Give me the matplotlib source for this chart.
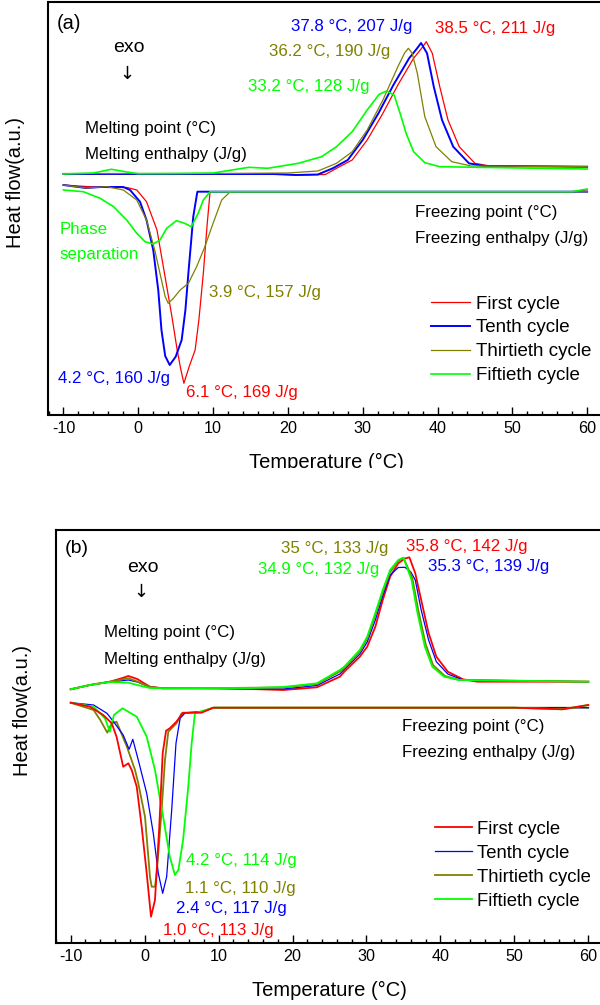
import matplotlib
matplotlib.use("Agg")
import matplotlib.pyplot as plt
from matplotlib.ticker import MultipleLocator
from matplotlib.transforms import Bbox, TransformedBbox

plt.rcParams['font.family'] = ['Liberation Sans', 'DejaVu Sans']
plt.rcParams['axes.unicode_minus'] = False

# ---------------- panel (a) ----------------
# melting (upper) curves, heat flow in a.u.
red_melt_T = [-10, 0, 10, 18, 22, 25, 26.5, 28.6, 30.6, 32.7, 34.7, 36.8, 37.8, 38.5, 39.3, 40.3, 41.4, 42.9, 45, 47, 60]
red_melt = [241, 241, 241, 241, 240, 240.5, 246.7, 255, 275, 301.7, 330, 356.7, 366, 373.3, 361.7, 328.3, 295, 268.3, 251.7, 249, 248.3]
blue_melt_T = [-10, 10, 18, 21, 24, 26, 28, 30, 32.1, 34.1, 36.2, 37.2, 37.8, 38.6, 39.5, 40.6, 42.1, 44.2, 46.2, 60]
blue_melt = [241, 241, 241, 240, 240.5, 246.7, 255, 275, 301.7, 330, 356.7, 366, 372, 361.7, 328.3, 295, 268.3, 251.7, 249, 248.3]
olive_melt_T = [-10, 10, 20, 24, 26.5, 28.6, 30.6, 32.7, 34.7, 35.6, 36.1, 36.6, 37.3, 38.3, 39.8, 41.9, 44.5, 60]
olive_melt = [241.5, 241.5, 242, 244, 251.7, 263.3, 285, 315, 348.3, 362, 366.7, 362, 341.7, 298.3, 268.3, 253.3, 249, 248.3]
green_melt_T = [-10, -6, -3.6, -1.5, 0, 5, 10, 14.8, 17.3, 21.4, 24.5, 26.5, 28.6, 30.6, 32.2, 33.2, 34.2, 35, 35.8, 36.8, 38.3, 40.3, 60]
green_melt = [241, 242, 245.7, 243, 241.3, 241.5, 242, 247.7, 246.7, 251.7, 258.3, 268.3, 283.3, 305, 320.7, 324, 320, 301.7, 281.7, 263.3, 252.3, 248.3, 246]

# freezing (lower) curves
red_frz_T = [-10, -7, -4, -1.5, -0.2, 1.1, 2.5, 3.35, 4.5, 5.2, 5.7, 6.1, 6.8, 7.6, 8.1, 8.7, 9.2, 9.6, 12, 58, 60]
red_frz = [230, 228.5, 227.5, 227.5, 225, 213.3, 185, 148.3, 98.3, 65, 45, 31.7, 48.3, 65, 95, 142, 190, 223.3, 223.3, 223.3, 225.3]
blue_frz_T = [-10, -7, -5, -2, -1.1, 0.23, 1.1, 2.0, 2.67, 3.1, 3.6, 4.2, 5.0, 5.8, 6.3, 6.7, 7.35, 7.9, 60]
blue_frz = [230, 227, 228, 228, 225, 213.3, 195, 165, 125, 85, 59, 50, 58.3, 75, 105, 142, 198.3, 223.3, 223.3]
olive_frz_T = [-10, -7, -4.2, -2.0, -0.2, 1.1, 2.2, 3.1, 3.6, 4.0, 4.7, 5.6, 6.7, 7.8, 8.9, 10.0, 11.15, 12.3, 60]
olive_frz = [230, 227, 228.3, 225, 215, 195, 165, 135, 118.3, 111.7, 116.7, 125, 131.7, 148.3, 168.3, 191.7, 215, 223.3, 223.3]
green_frz_T = [-10, -7.35, -5.1, -3.3, -1.55, -0.2, 0.9, 2.0, 2.9, 3.8, 5.1, 6.2, 7.1, 8.0, 8.7, 9.6, 58, 60]
green_frz = [225, 223.3, 216.7, 208.3, 195, 181.7, 173.3, 171, 175, 186.7, 194.3, 191.7, 188.3, 201.7, 215, 223.3, 223.3, 226]

# ---------------- panel (b) ----------------
red_melt_b_T = [-10, -7.4, -4.7, -3, -2.2, -1, 0.7, 2.5, 10, 14.3, 18.75, 23.3, 26.4, 27, 29.1, 30.1, 31.2, 32.2, 33.2, 34.3, 35.2, 35.8, 36.6, 37.4, 38.4, 39.45, 41, 43.06, 45, 60]
red_melt_b = [253.7, 258, 261.3, 265, 267, 264, 256.3, 254.7, 254.5, 254, 253, 255.7, 266.3, 271.3, 286.3, 296.3, 316.3, 343, 366.3, 379.7, 384.5, 385.7, 369.7, 343, 310, 286.3, 271.3, 263.7, 261.3, 261.3]
blue_melt_b_T = [-10, -7.4, -4.7, -2.2, -1, 0.7, 2.5, 10, 18.75, 23.3, 26.4, 27, 29.1, 30.1, 31.2, 32.2, 33.2, 34.3, 35.2, 36.0, 36.6, 37.4, 38.4, 39.45, 41, 43.06, 60]
blue_melt_b = [253.7, 258, 261, 263, 261, 256, 254.7, 254.5, 254, 257.5, 269, 273.5, 289, 301, 323, 347, 368, 375.5, 375.7, 371, 363, 333, 303, 281.3, 269, 263, 261.3]
olive_melt_b_T = [-10, -7.4, -4.7, -2.2, -1, 0.7, 2.5, 10, 18.75, 23.3, 26.4, 27, 29.1, 30.1, 31.2, 32.2, 33.2, 34.3, 35.0, 36.2, 37.0, 38.0, 39.0, 40.6, 42.6, 60]
olive_melt_b = [253.7, 258, 261.3, 264.7, 261.5, 256, 254.7, 255, 255.5, 259, 271.5, 275, 291.5, 304.5, 328, 351, 371, 382, 385.3, 365, 333, 299, 278, 267, 263, 261.3]
green_melt_b_T = [-10, -7.4, -4.7, -2.2, -1, 0.7, 2.5, 10, 14.3, 18.75, 23.3, 26.4, 27, 29.1, 30.1, 31.2, 32.2, 33.2, 34.3, 35.0, 36.1, 36.9, 37.9, 38.9, 40.5, 42.5, 60]
green_melt_b = [253.7, 258, 261, 260.3, 258, 255, 254.7, 255, 255, 256, 259.7, 273, 276.3, 293, 306.3, 330, 353, 373, 383, 385.3, 363, 330, 296.3, 276.3, 266.3, 263, 261.3]

red_frz_b_T = [-10, -7.4, -5.6, -4.45, -3.8, -2.9, -2.2, -1.75, -1.07, -0.4, 0.28, 0.86, 1.4, 1.98, 2.44, 2.9, 3.4, 4.3, 5.2, 7.7, 9.3, 50, 56.5, 60]
red_frz_b = [240.3, 236.3, 228, 219.7, 206.3, 176.3, 179.7, 173, 156.3, 116.3, 69.7, 26.3, 43, 116.3, 189.7, 212.3, 214.7, 221.3, 230.3, 230.3, 235.3, 235.3, 233.7, 238]
blue_frz_b_T = [-10, -6.9, -5.1, -4.2, -2.9, -2.1, -1.6, -0.86, 0.28, 1.17, 1.85, 2.44, 2.98, 3.66, 4.24, 4.8, 5.5, 7.7, 9.3, 60]
blue_frz_b = [240.3, 238, 229.7, 221.3, 208, 193.7, 203.7, 183, 149.7, 109.7, 69.7, 49.7, 66.3, 133, 199.7, 224.7, 230.3, 231, 235.3, 235.3]
olive_frz_b_T = [-10, -6.9, -6.0, -5.05, -4.45, -3.8, -2.4, -1.3, -0.86, 0.05, 0.72, 0.95, 1.4, 1.63, 2.3, 2.75, 3.2, 4.3, 5.0, 6.1, 7.7, 9.3, 60]
olive_frz_b = [240.3, 233, 223, 210.3, 219.7, 221.3, 196.3, 173, 159.7, 126.3, 66.3, 56.3, 56.3, 69.7, 133, 183, 211.3, 219.7, 229.7, 230.3, 231.3, 235.3, 235.3]
green_frz_b_T = [-10, -6.9, -5.36, -4.7, -4.15, -3.0, -1.07, 0.28, 1.4, 2.5, 3.4, 4.1, 4.56, 5.2, 5.9, 6.36, 6.8, 7.5, 9.3, 50, 56.5, 60]
green_frz_b = [240.3, 236.3, 224.7, 211.3, 228, 234.7, 226.3, 206.3, 173, 126.3, 86.3, 68, 73, 103, 156.3, 199.7, 229.7, 231.3, 235.3, 235.3, 233.7, 238]

RED, BLUE, OLIVE, GREEN = '#ff0000', '#0000ff', '#808000', '#00ff00'
labels = ["First cycle", "Tenth cycle", "Thirtieth cycle", "Fiftieth cycle"]

fig = plt.figure(figsize=(6, 10.05), dpi=100)
ax_a = fig.add_axes([48.5 / 600, 1 - 415 / 1005, 553.6 / 600, 413 / 1005])
ax_b = fig.add_axes([55.9 / 600, 1 - 943 / 1005, 547.2 / 600, 413 / 1005])

# panel (a) curves
ax_a.plot(red_melt_T, red_melt, color=RED, lw=0.9, label=labels[0])
ax_a.plot(blue_melt_T, blue_melt, color=BLUE, lw=1.4, label=labels[1])
ax_a.plot(olive_melt_T, olive_melt, color=OLIVE, lw=0.9, label=labels[2])
ax_a.plot(green_melt_T, green_melt, color=GREEN, lw=1.2, label=labels[3])
ax_a.plot(red_frz_T, red_frz, color=RED, lw=0.9)
ax_a.plot(blue_frz_T, blue_frz, color=BLUE, lw=1.4)
ax_a.plot(olive_frz_T, olive_frz, color=OLIVE, lw=0.9)
ax_a.plot(green_frz_T, green_frz, color=GREEN, lw=1.2)

# panel (b) curves
ax_b.plot(red_melt_b_T, red_melt_b, color=RED, lw=1.3, label=labels[0])
ax_b.plot(blue_melt_b_T, blue_melt_b, color=BLUE, lw=0.9, label=labels[1])
ax_b.plot(olive_melt_b_T, olive_melt_b, color=OLIVE, lw=1.3, label=labels[2])
ax_b.plot(green_melt_b_T, green_melt_b, color=GREEN, lw=1.3, label=labels[3])
ax_b.plot(olive_frz_b_T, olive_frz_b, color=OLIVE, lw=1.3)
ax_b.plot(blue_frz_b_T, blue_frz_b, color=BLUE, lw=0.9)
ax_b.plot(green_frz_b_T, green_frz_b, color=GREEN, lw=1.3)
ax_b.plot(red_frz_b_T, red_frz_b, color=RED, lw=1.3)

for ax in (ax_a, ax_b):
    ax.set_xlim(-12, 62)
    ax.set_ylim(0, 413)
    ax.set_yticks([])
    ax.xaxis.set_major_locator(MultipleLocator(10))
    ax.xaxis.set_minor_locator(MultipleLocator(2))
    ax.tick_params(axis='x', which='major', direction='in', length=6, width=1.0,
                   labelsize=11.6, pad=4)
    ax.tick_params(axis='x', which='minor', direction='in', length=3, width=1.0)
    for sp in ax.spines.values():
        sp.set_linewidth(1.5)

fs = 12.2
arrow_font = ['DejaVu Sans']

# annotations panel (a)
ax_a.text(-10.9, 391.7, "(a)", fontsize=14.5, va='center')
ax_a.text(-1.24, 367, "exo", fontsize=14, ha='center', va='center')
ax_a.text(-1.5, 341, "↓", fontsize=13, ha='center', va='center', family=arrow_font)
ax_a.text(-7.13, 287, "Melting point (°C)", fontsize=fs, va='center')
ax_a.text(-7.13, 261, "Melting enthalpy (J/g)", fontsize=fs, va='center')
ax_a.text(36.99, 202.3, "Freezing point (°C)", fontsize=fs, va='center')
ax_a.text(36.99, 176, "Freezing enthalpy (J/g)", fontsize=fs, va='center')
ax_a.text(-10.56, 185, "Phase", fontsize=fs, va='center', color=GREEN)
ax_a.text(-10.56, 160, "separation", fontsize=fs, va='center', color=GREEN)
ax_a.text(20.4, 389, "37.8 °C, 207 J/g", fontsize=fs, va='center', color=BLUE)
ax_a.text(39.7, 386.7, "38.5 °C, 211 J/g", fontsize=fs, va='center', color=RED)
ax_a.text(17.5, 363.3, "36.2 °C, 190 J/g", fontsize=fs, va='center', color=OLIVE)
ax_a.text(14.7, 328.3, "33.2 °C, 128 J/g", fontsize=fs, va='center', color=GREEN)
ax_a.text(9.45, 122, "3.9 °C, 157 J/g", fontsize=fs, va='center', color=OLIVE)
ax_a.text(-10.7, 37, "4.2 °C, 160 J/g", fontsize=fs, va='center', color=BLUE)
ax_a.text(6.43, 22, "6.1 °C, 169 J/g", fontsize=fs, va='center', color=RED)

# annotations panel (b)
ax_b.text(-10.77, 394.7, "(b)", fontsize=14, va='center')
ax_b.text(-0.29, 375.7, "exo", fontsize=14, ha='center', va='center')
ax_b.text(-0.52, 350.7, "↓", fontsize=13, ha='center', va='center', family=arrow_font)
ax_b.text(-5.5, 310.3, "Melting point (°C)", fontsize=fs, va='center')
ax_b.text(-5.5, 283.7, "Melting enthalpy (J/g)", fontsize=fs, va='center')
ax_b.text(34.78, 216.3, "Freezing point (°C)", fontsize=fs, va='center')
ax_b.text(34.78, 190.3, "Freezing enthalpy (J/g)", fontsize=fs, va='center')
ax_b.text(18.48, 394.7, "35 °C, 133 J/g", fontsize=fs, va='center', color=OLIVE)
ax_b.text(35.3, 396.3, "35.8 °C, 142 J/g", fontsize=fs, va='center', color=RED)
ax_b.text(15.37, 373.7, "34.9 °C, 132 J/g", fontsize=fs, va='center', color=GREEN)
ax_b.text(38.3, 376.3, "35.3 °C, 139 J/g", fontsize=fs, va='center', color=BLUE)
ax_b.text(5.59, 83, "4.2 °C, 114 J/g", fontsize=fs, va='center', color=GREEN)
ax_b.text(5.46, 54.7, "1.1 °C, 110 J/g", fontsize=fs, va='center', color=OLIVE)
ax_b.text(4.24, 34.7, "2.4 °C, 117 J/g", fontsize=fs, va='center', color=BLUE)
ax_b.text(2.44, 13, "1.0 °C, 113 J/g", fontsize=fs, va='center', color=RED)

# legends
ax_a.legend(loc='upper left', bbox_to_anchor=(431 / 600, 1 - 295.4 / 1005),
            bbox_transform=fig.transFigure, frameon=False, fontsize=13.5,
            handlelength=2.1, handletextpad=0.3, labelspacing=0.36,
            borderpad=0, borderaxespad=0)
ax_b.legend(loc='upper left', bbox_to_anchor=(435 / 600, 1 - 820.8 / 1005),
            bbox_transform=fig.transFigure, frameon=False, fontsize=13.3,
            handlelength=2.0, handletextpad=0.3, labelspacing=0.38,
            borderpad=0, borderaxespad=0)

# axis labels
fig.text(16 / 600, 1 - 183 / 1005, "Heat flow(a.u.)", rotation=90,
         fontsize=14.5, ha='center', va='center')
fig.text(23 / 600, 1 - 710 / 1005, "Heat flow(a.u.)", rotation=90,
         fontsize=14.5, ha='center', va='center')
xl_a = fig.text(326 / 600, 1 - 462 / 1005, "Temperature (°C)", fontsize=14.5,
                ha='center', va='center')
xl_a.set_clip_box(TransformedBbox(Bbox([[0, 1 - 468 / 1005], [1, 1]]), fig.transFigure))
xl_a.set_clip_on(True)
fig.text(329 / 600, 1 - 990 / 1005, "Temperature (°C)", fontsize=14.5,
         ha='center', va='center')

fig.savefig("out.png", dpi=100)
